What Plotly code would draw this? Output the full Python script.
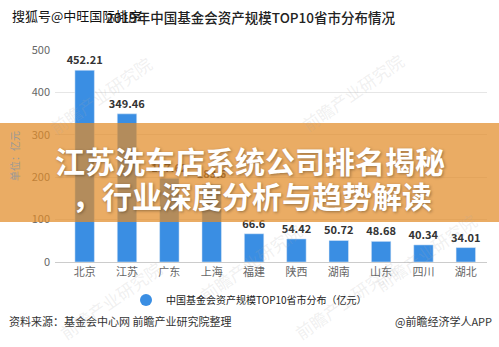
import plotly.graph_objects as go

provinces = ["北京", "江苏", "广东", "上海", "福建", "陕西", "湖南", "山东", "四川", "湖北"]
assets = [452.21, 349.46, 197.62, 183.6, 66.6, 54.42, 50.72, 48.68, 40.34, 34.01]
value_labels = ["452.21", "349.46", "197.62", "183.6", "66.6", "54.42", "50.72", "48.68", "40.34", "34.01"]
y_ticks = [0, 100, 200, 300, 400, 500]

series_name = "中国基金会资产规模TOP10省市分布（亿元）"
bar_color = "#3a8ee3"
cjk = "Noto Sans CJK SC"

fig = go.Figure()
fig.add_trace(go.Bar(
    x=provinces, y=assets, text=value_labels, textposition="outside",
    constraintext="none",
    textfont=dict(family=cjk, size=11, color="#333333", weight="bold"),
    marker=dict(color=bar_color), width=0.46, showlegend=False, cliponaxis=False,
))
# legend entry drawn with a round marker
fig.add_trace(go.Scatter(
    x=[None], y=[None], mode="markers", name=series_name,
    marker=dict(symbol="circle", size=10, color=bar_color),
))

W, H = 499, 347
L, R, T, B = 55, 12, 50, 85
pw, ph = W - L - R, H - T - B

def px_x(p):
    return (p - L) / pw

def px_y(p):
    return (H - B - p) / ph

fig.update_layout(
    width=W, height=H, margin=dict(l=L, r=R, t=T, b=B),
    paper_bgcolor="white", plot_bgcolor="white",
    font=dict(family=cjk, color="#555555"),
    bargap=0.5,
    xaxis=dict(range=[-0.7, 9.5], showgrid=False, showline=True, linecolor="#cccccc",
               linewidth=1, ticks="", tickfont=dict(size=11, color="#666666"), fixedrange=True),
    yaxis=dict(range=[0, 500], tickvals=y_ticks, showgrid=True, gridcolor="#e6e6e6",
               zeroline=False, showline=False, tickfont=dict(size=11, color="#666666"),
               ticklabelstandoff=4,
               title=dict(text="单位：亿元", font=dict(size=10, color="#999999"), standoff=10)),
    legend=dict(orientation="h", x=px_x(126), xanchor="left", y=px_y(300), yanchor="middle",
                font=dict(size=10, color="#222222"), itemsizing="constant", bgcolor="rgba(0,0,0,0)"),
    showlegend=True,
)

annotations = [
    dict(text="2019年中国基金会资产规模TOP10省市分布情况", x=px_x(250), y=px_y(17),
         xanchor="center", font=dict(size=13.5, color="#222222", weight=500)),
    dict(text="搜狐号@中旺国际排序", x=px_x(10), y=px_y(16), xanchor="left",
         font=dict(size=13, color="#111111")),
    dict(text="资料来源：基金会中心网 前瞻产业研究院整理", x=px_x(7), y=px_y(321), xanchor="left",
         font=dict(size=11, color="#333333")),
    dict(text="@前瞻经济学人APP", x=px_x(494), y=px_y(321), xanchor="right",
         font=dict(size=11, color="#333333")),
    dict(text="江苏洗车店系统公司排名揭秘", x=px_x(250), y=px_y(160), xanchor="center",
         font=dict(size=30, color="white", weight="bold", shadow="1px 1px 3px rgba(0,0,0,0.35)")),
    dict(text="，行业深度分析与趋势解读", x=px_x(252), y=px_y(195), xanchor="center",
         font=dict(size=30, color="white", weight="bold", shadow="1px 1px 3px rgba(0,0,0,0.35)")),
]
# faint diagonal publisher marks
for wx, wy in [(100, 95), (352, 92), (250, 262), (425, 252), (110, 300), (345, 300)]:
    annotations.append(dict(text="前瞻产业研究院", x=px_x(wx), y=px_y(wy), textangle=-35,
                            xanchor="center",
                            font=dict(size=17, color="rgba(170,170,170,0.18)")))
for a in annotations:
    a.update(xref="paper", yref="paper", yanchor="middle", showarrow=False)
fig.update_layout(annotations=annotations)

# translucent orange banner across the chart
fig.add_shape(type="rect", xref="paper", yref="paper",
              x0=px_x(0), x1=px_x(W), y0=px_y(222), y1=px_y(123),
              fillcolor="rgb(226,140,40)", opacity=0.72, line=dict(width=0), layer="above")

fig.write_html("out.html")
